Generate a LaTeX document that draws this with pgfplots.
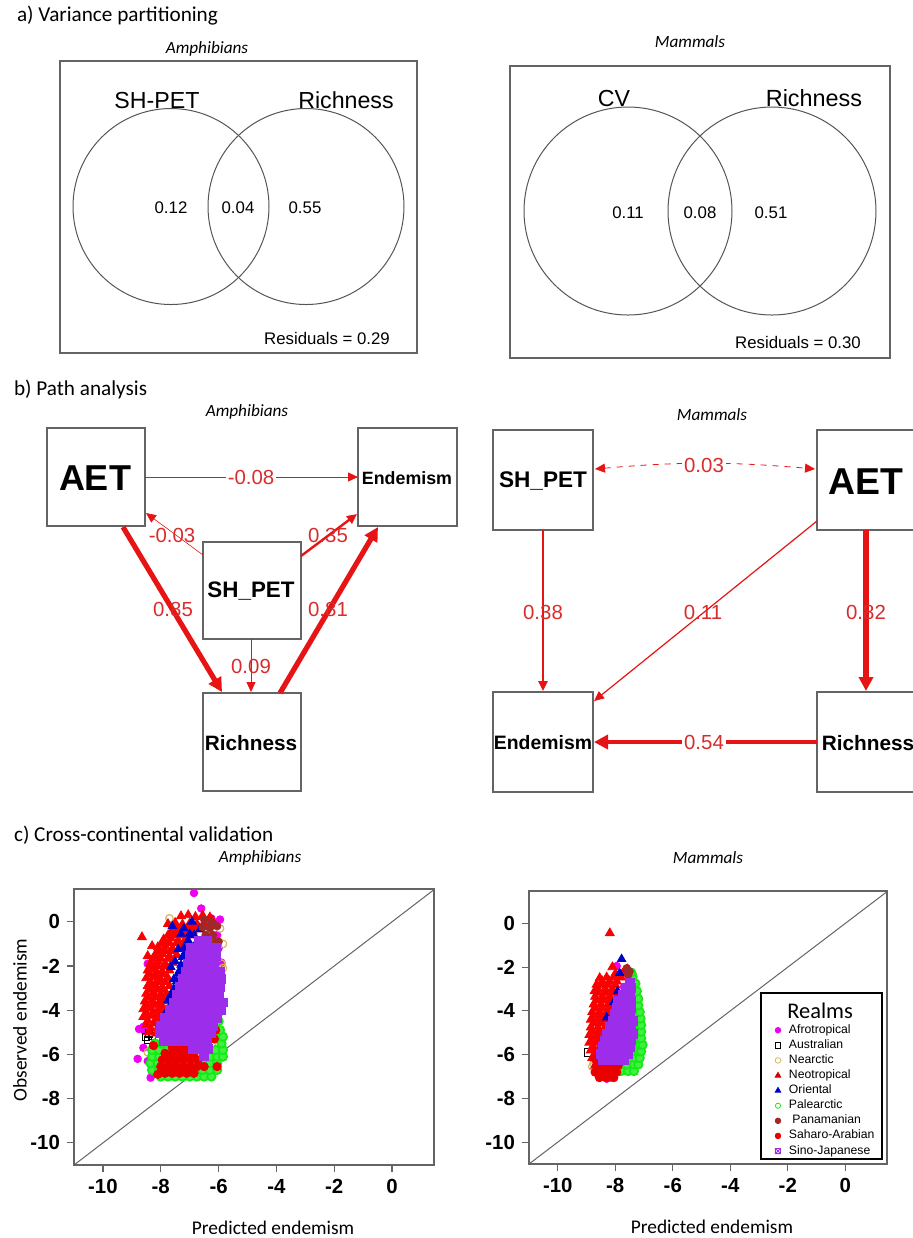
\documentclass[border=0pt]{standalone}
\usepackage{pgfplots}
\pgfplotsset{compat=1.18}
\usepackage{fontspec}
\setmainfont{Liberation Sans}
\newfontfamily\carl{Carlito}
\usetikzlibrary{arrows.meta}
\newcommand{\fs}[1]{\fontsize{#1}{#1}\selectfont}

\definecolor{framegray}{RGB}{100,100,100}
\definecolor{circgray}{RGB}{85,85,85}
\definecolor{edge}{RGB}{230,20,20}
\definecolor{elab}{RGB}{215,45,45}
\definecolor{afro}{RGB}{240,0,240}
\definecolor{nearc}{RGB}{215,180,90}
\definecolor{neo}{RGB}{250,0,0}
\definecolor{orie}{RGB}{0,0,205}
\definecolor{pale}{RGB}{20,235,20}
\definecolor{pana}{RGB}{160,40,40}
\definecolor{sahara}{RGB}{235,0,0}
\definecolor{sino}{RGB}{155,45,235}

\tikzset{
  hd/.style={anchor=west, font=\carl\fs{10.6}},
  sub/.style={font=\carl\itshape\fs{8.6}},
  frame/.style={draw=framegray, line width=0.6pt},
  venn/.style={draw=circgray, line width=0.5pt},
  vlab/.style={font=\fs{8.4}},
  ed/.style={draw=edge, -{Triangle[length=5pt,width=4.5pt]}},
  edk/.style={draw=edge, -{Triangle[length=7pt,width=7pt]}},
  el/.style={text=elab, font=\fs{10.2}, inner sep=1pt},
}

\pgfplotsset{
  scat/.style={scale only axis, xmin=-11, xmax=1.45, ymin=-11, ymax=1.48,
    xtick={-10,-8,-6,-4,-2,0}, ytick={-10,-8,-6,-4,-2,0},
    xticklabels={-10,-8,-6,-4,-2,0}, yticklabels={-10,-8,-6,-4,-2,0},
    tick align=outside, tick pos=left, major tick length=3.5pt,
    axis line style={draw=framegray, line width=0.6pt},
    major tick style={draw=framegray, line width=0.6pt},
    tick label style={font=\bfseries\fs{10.2}},
    label style={font=\carl\fs{9.7}},
    title style={font=\carl\itshape\fs{8.6}, anchor=center},
  },
  lgi/.style={legend image code/.code={\draw[##1, mark size=1.4pt, line width=0.4pt] plot coordinates {(0pt,0pt)};}},
  afroS/.style={only marks, mark=*, mark size=1.9pt, color=afro},
  austS/.style={only marks, mark=square, mark size=1.8pt, color=black, line width=0.5pt},
  nearS/.style={only marks, mark=o, mark size=1.9pt, color=nearc, line width=0.6pt},
  neoS/.style={only marks, mark=triangle*, mark size=2.6pt, color=neo},
  orieS/.style={only marks, mark=triangle*, mark size=2.4pt, color=orie},
  paleS/.style={only marks, mark=*, mark size=2.1pt, line width=0.9pt,
    mark options={draw=pale, fill=pale!80!white}},
  panaS/.style={only marks, mark=*, mark size=1.9pt, color=pana},
  sahaS/.style={only marks, mark=*, mark size=2.1pt, color=sahara},
  sinoS/.style={only marks, mark=square*, mark size=2.2pt, color=sino},
}

\begin{document}
\begin{tikzpicture}
% ---------- panels a) and b): diagrams on a pixel grid ----------
\begin{axis}[at={(0pt,0pt)}, anchor=north west, scale only axis,
  width=456pt, height=619pt, xmin=0, xmax=912, ymin=0, ymax=1238,
  y dir=reverse, hide axis, clip=false]
% a) Venn diagrams
\node[hd] at (axis cs:10,16) {a) Variance partitioning};
\node[sub] at (axis cs:207,49) {Amphibians};
\draw[frame] (axis cs:60,61) rectangle (axis cs:417,353);
\draw[venn] (axis cs:171,206.5) circle[radius=49pt];
\draw[venn] (axis cs:306,206.5) circle[radius=49pt];
\node[font=\fs{11.6}] at (axis cs:157,100) {SH-PET};
\node[font=\fs{11.6}] at (axis cs:346,100) {Richness};
\node[vlab] at (axis cs:171,208) {0.12};
\node[vlab] at (axis cs:238,208) {0.04};
\node[vlab] at (axis cs:305,208) {0.55};
\node[vlab] at (axis cs:327,338) {Residuals = 0.29};

\node[sub] at (axis cs:690,42) {Mammals};
\draw[frame] (axis cs:510,66) rectangle (axis cs:890,358);
\draw[venn] (axis cs:628,211) circle[radius=52pt];
\draw[venn] (axis cs:772,211) circle[radius=52pt];
\node[font=\fs{11.6}] at (axis cs:614,98) {CV};
\node[font=\fs{11.7}] at (axis cs:814,98) {Richness};
\node[vlab] at (axis cs:628,213) {0.11};
\node[vlab] at (axis cs:700,213) {0.08};
\node[vlab] at (axis cs:771,213) {0.51};
\node[vlab] at (axis cs:798,342) {Residuals = 0.30};

% b) path diagrams
\node[hd] at (axis cs:7,389) {b) Path analysis};
\node[sub] at (axis cs:247,412) {Amphibians};
\draw[frame] (axis cs:47,428) rectangle (axis cs:145,526);
\draw[frame] (axis cs:358,428) rectangle (axis cs:457,526);
\draw[frame] (axis cs:203,542) rectangle (axis cs:301,639);
\draw[frame] (axis cs:203,693) rectangle (axis cs:301,791);
\node[font=\bfseries\fs{18}] at (axis cs:95,478) {AET};
\node[font=\bfseries\fs{8.9}] at (axis cs:407,478) {Endemism};
\node[font=\bfseries\fs{11.2}, anchor=base] at (axis cs:251,597) {SH\_PET};
\node[font=\bfseries\fs{10.4}] at (axis cs:251,743) {Richness};
\draw[ed, line width=0.5pt] (axis cs:145,477) -- (axis cs:358,477);
\node[el, fill=white] at (axis cs:251,477) {-0.08};
\draw[ed, line width=0.3pt] (axis cs:203,555) -- (axis cs:146,513);
\node[el] at (axis cs:172,535) {-0.03};
\draw[ed, line width=1.2pt] (axis cs:301,556) -- (axis cs:357,514);
\node[el] at (axis cs:328,535) {0.35};
\draw[edk, line width=2.6pt] (axis cs:123,527) -- (axis cs:222,692);
\node[el] at (axis cs:173,609) {0.85};
\draw[edk, line width=2.6pt] (axis cs:280,693) -- (axis cs:378,527);
\node[el] at (axis cs:328,609) {0.81};
\draw[ed, line width=0.4pt] (axis cs:251,639) -- (axis cs:251,692);
\node[el] at (axis cs:251,666) {0.09};

\node[sub] at (axis cs:712,415) {Mammals};
\draw[frame] (axis cs:493,430) rectangle (axis cs:593,530);
\draw[frame] (axis cs:817,430) rectangle (axis cs:917,530);
\draw[frame] (axis cs:493,692) rectangle (axis cs:593,792);
\draw[frame] (axis cs:817,692) rectangle (axis cs:917,792);
\node[font=\bfseries\fs{11.3}, anchor=base] at (axis cs:543,487) {SH\_PET};
\node[font=\bfseries\fs{18.7}] at (axis cs:866,482) {AET};
\node[font=\bfseries\fs{9.7}] at (axis cs:543,743) {Endemism};
\node[font=\bfseries\fs{10.4}] at (axis cs:868,743) {Richness};
\draw[draw=edge, dashed, line width=0.4pt, {Triangle[length=5pt,width=4.5pt]}-{Triangle[length=5pt,width=4.5pt]}]
  (axis cs:595,469) to[bend left=5] (axis cs:815,469);
\node[el, fill=white] at (axis cs:704,465) {0.03};
\draw[ed, line width=1.2pt] (axis cs:543,530) -- (axis cs:543,691);
\node[el] at (axis cs:543,612) {0.38};
\draw[ed, line width=0.6pt] (axis cs:817,521) -- (axis cs:594,701);
\node[el] at (axis cs:703,612) {0.11};
\draw[edk, line width=3pt] (axis cs:866,530) -- (axis cs:866,691);
\node[el] at (axis cs:866,612) {0.82};
\draw[edk, line width=2.2pt] (axis cs:817,742) -- (axis cs:594,742);
\node[el, fill=white] at (axis cs:704,742) {0.54};

% c) heading
\node[hd] at (axis cs:7,835) {c) Cross-continental validation};
\end{axis}

% ---------- c) Amphibians ----------
\begin{axis}[scat, at={(37pt,-444.5pt)}, anchor=north west, width=180pt, height=138pt,
  title={Amphibians}, title style={at={(0.517,1.069)}},
  xlabel={Predicted endemism}, xlabel style={at={(0.553,-0.228)}, anchor=center},
  ylabel={Observed endemism}, ylabel style={at={(-0.15,0.525)}, anchor=center}]
\addplot[framegray, line width=0.5pt] coordinates {(-11,-11) (1.5,1.5)};
\addplot[afroS] coordinates {(-6.85,1.3) (-6.6,0.6) (-6.25,0.15) (-5.95,0.1) (-8.3,-2.0) (-8.45,-1.9)
  (-5.9,-1.85) (-6.05,-0.6) (-6.0,-1.2) (-8.75,-4.85) (-8.6,-4.75) (-8.55,-4.95) (-8.8,-6.2)
  (-8.35,-7.05) (-8.35,-6.45) (-8.2,-6.6) (-8.3,-6.75) (-8.45,-6.3) (-8.6,-5.7) (-6.2,-2.6) (-6.0,-3.3)};
\addplot[austS] coordinates {(-8.4,-5.05) (-8.5,-5.2) (-8.3,-5.15) (-8.45,-5.35) (-6.25,-6.7)};
\addplot[nearS] coordinates {(-7.7,0.15) (-5.85,-1.0) (-5.9,-1.9) (-5.85,-2.1) (-8.45,-5.9) (-5.95,-0.3) (-6.0,-5.6)};
\addplot[neoS] coordinates {
  (-7.3,0.25) (-7.05,0.3) (-6.8,0.22) (-6.55,0.28) (-6.3,0.2) (-6.2,0.05)
  (-7.75,-0.1) (-7.5,-0.05) (-7.25,-0.12) (-7.0,-0.08) (-6.75,-0.1) (-6.5,-0.05)
  (-7.5,-0.27) (-7.25,-0.27) (-7.0,-0.27) (-6.75,-0.27)
  (-7.65,-0.45) (-7.4,-0.4) (-7.15,-0.48) (-6.9,-0.42)
  (-7.75,-0.62) (-7.5,-0.62) (-7.25,-0.62) (-7.0,-0.62)
  (-7.9,-0.8) (-7.65,-0.75) (-7.4,-0.85) (-7.15,-0.8)
  (-7.95,-0.97) (-7.7,-0.97) (-7.45,-0.97) (-7.2,-0.97)
  (-8.1,-1.15) (-7.85,-1.1) (-7.6,-1.2) (-7.35,-1.15)
  (-8.1,-1.32) (-7.85,-1.32) (-7.6,-1.32)
  (-8.2,-1.5) (-7.95,-1.45) (-7.7,-1.55) (-7.45,-1.5)
  (-8.25,-1.67) (-8.0,-1.67) (-7.75,-1.67)
  (-8.35,-1.85) (-8.1,-1.8) (-7.85,-1.9) (-7.6,-1.85)
  (-8.35,-2.02) (-8.1,-2.02) (-7.85,-2.02)
  (-8.45,-2.2) (-8.2,-2.15) (-7.95,-2.25) (-7.7,-2.2)
  (-8.4,-2.37) (-8.15,-2.37) (-7.9,-2.37)
  (-8.5,-2.55) (-8.25,-2.5) (-8.0,-2.6) (-7.75,-2.55)
  (-8.35,-2.72) (-8.1,-2.72) (-7.85,-2.72)
  (-8.45,-2.9) (-8.2,-2.85) (-7.95,-2.95) (-7.7,-2.9)
  (-8.4,-3.07) (-8.15,-3.07) (-7.9,-3.07)
  (-8.5,-3.25) (-8.25,-3.2) (-8.0,-3.3) (-7.8,-3.25)
  (-8.45,-3.42) (-8.2,-3.42) (-7.95,-3.42)
  (-8.55,-3.6) (-8.3,-3.55) (-8.05,-3.65) (-7.85,-3.6)
  (-8.5,-3.77) (-8.25,-3.77) (-8.0,-3.77)
  (-8.6,-3.95) (-8.35,-3.9) (-8.1,-4.0) (-7.9,-3.95)
  (-8.5,-4.12) (-8.25,-4.12) (-8.0,-4.12)
  (-8.6,-4.3) (-8.35,-4.25) (-8.1,-4.35)
  (-8.45,-4.47) (-8.2,-4.47)
  (-8.5,-4.65) (-8.25,-4.6) (-8.05,-4.7)
  (-8.35,-4.82) (-8.1,-4.82)
  (-8.4,-5.0) (-8.15,-5.05)
  (-8.65,-0.7) (-8.3,-1.1) (-8.45,-1.55) (-7.2,-5.0)};
\addplot[orieS] coordinates {(-7.6,-0.2) (-6.92,0.0) (-6.65,-0.35) (-7.3,-0.55) (-7.05,-0.85) (-6.85,-0.6)
  (-7.4,-1.25) (-7.2,-1.5) (-7.5,-1.8) (-7.35,-2.2) (-7.55,-2.6) (-7.45,-3.0) (-7.65,-3.3)
  (-7.5,-3.7) (-7.75,-3.55) (-7.9,-4.6) (-7.8,-4.2) (-6.95,-1.15) (-6.8,-1.35) (-7.65,-2.05)
  (-7.2,-1.2) (-7.25,-1.6) (-7.3,-1.95) (-7.4,-2.35) (-7.45,-2.7) (-7.55,-3.05) (-7.6,-3.45)
  (-7.7,-3.85) (-7.8,-4.05) (-7.2,-0.3) (-7.0,-0.55) (-6.75,-0.9)};
\addplot[paleS] coordinates {
  (-8.0,-7.0) (-7.75,-7.0) (-7.5,-7.0) (-7.25,-7.0) (-7.0,-7.0) (-6.75,-7.0) (-6.5,-7.0) (-6.25,-7.0)
  (-8.3,-6.7) (-8.05,-6.7) (-7.8,-6.7) (-7.55,-6.7) (-7.3,-6.7) (-7.05,-6.7) (-6.8,-6.7) (-6.55,-6.7) (-6.3,-6.7) (-6.05,-6.7)
  (-8.35,-6.4) (-8.1,-6.4) (-6.55,-6.4) (-6.3,-6.4) (-6.05,-6.4)
  (-8.3,-6.1) (-8.05,-6.1) (-6.3,-6.1) (-6.05,-6.1) (-5.85,-6.1)
  (-8.3,-5.8) (-8.05,-5.8) (-7.8,-5.8) (-6.1,-5.8) (-5.85,-5.8)
  (-8.2,-5.5) (-7.95,-5.5) (-5.9,-5.5) (-6.1,-5.2) (-5.85,-5.2)
  (-5.95,-4.9) (-6.0,-4.5) (-6.0,-4.1) (-6.05,-3.6) (-6.1,-3.0)};
\addplot[panaS] coordinates {(-6.5,0.1) (-6.25,0.0) (-6.55,-0.25) (-6.3,-0.3) (-6.05,-0.2) (-6.45,-0.6)
  (-6.2,-0.6) (-6.6,-0.9) (-6.35,-0.95) (-6.1,-0.9) (-6.5,-1.3) (-6.25,-1.25) (-6.7,-1.6) (-6.0,-0.9)};
\addplot[sahaS] coordinates {
  (-7.85,-6.85) (-7.6,-6.85) (-7.35,-6.85) (-7.1,-6.85) (-6.85,-6.85)
  (-8.0,-6.55) (-7.75,-6.55) (-7.5,-6.55) (-7.25,-6.55) (-7.0,-6.55) (-6.75,-6.55) (-6.5,-6.55)
  (-7.95,-6.25) (-7.7,-6.25) (-7.45,-6.25) (-7.2,-6.25) (-6.95,-6.25) (-6.7,-6.25)
  (-7.85,-5.95) (-7.6,-5.95) (-7.35,-5.95) (-7.1,-5.95) (-6.85,-5.95)
  (-7.6,-5.7) (-7.35,-5.7) (-7.1,-5.7)
  (-6.05,-6.55) (-7.05,-5.0) (-8.25,-5.6) (-6.15,-5.3) (-6.1,-4.9) (-8.1,-6.9)};
\addplot[sinoS] coordinates {
  (-6.7,-0.85) (-6.4,-0.85)
  (-6.95,-1.2) (-6.65,-1.2) (-6.35,-1.2) (-6.1,-1.2)
  (-7.0,-1.55) (-6.7,-1.55) (-6.4,-1.55) (-6.1,-1.55)
  (-7.05,-1.9) (-6.75,-1.9) (-6.45,-1.9) (-6.15,-1.9)
  (-7.15,-2.25) (-6.85,-2.25) (-6.55,-2.25) (-6.25,-2.25) (-5.95,-2.25)
  (-7.25,-2.6) (-6.95,-2.6) (-6.65,-2.6) (-6.35,-2.6) (-6.05,-2.6) (-5.9,-2.6)
  (-7.35,-2.95) (-7.05,-2.95) (-6.75,-2.95) (-6.45,-2.95) (-6.15,-2.95) (-5.95,-2.95)
  (-7.45,-3.3) (-7.15,-3.3) (-6.85,-3.3) (-6.55,-3.3) (-6.25,-3.3) (-6.0,-3.3)
  (-7.55,-3.65) (-7.25,-3.65) (-6.95,-3.65) (-6.65,-3.65) (-6.35,-3.65) (-6.05,-3.65) (-5.85,-3.65)
  (-7.7,-4.0) (-7.4,-4.0) (-7.1,-4.0) (-6.8,-4.0) (-6.5,-4.0) (-6.2,-4.0) (-5.9,-4.0)
  (-7.85,-4.35) (-7.55,-4.35) (-7.25,-4.35) (-6.95,-4.35) (-6.65,-4.35) (-6.35,-4.35) (-6.05,-4.35)
  (-8.0,-4.7) (-7.7,-4.7) (-7.4,-4.7) (-7.1,-4.7) (-6.8,-4.7) (-6.5,-4.7) (-6.2,-4.7)
  (-8.05,-5.05) (-7.75,-5.05) (-7.45,-5.05) (-7.15,-5.05) (-6.85,-5.05) (-6.55,-5.05) (-6.25,-5.05)
  (-7.9,-5.4) (-7.6,-5.4) (-7.3,-5.4) (-7.0,-5.4) (-6.7,-5.4) (-6.4,-5.4)
  (-6.9,-5.75) (-6.6,-5.75) (-6.35,-5.75) (-6.5,-6.05)};
\end{axis}

% ---------- c) Mammals ----------
\begin{axis}[scat, at={(264.5pt,-445.5pt)}, anchor=north west, width=179pt, height=136.5pt,
  title={Mammals}, title style={at={(0.5,1.077)}},
  xlabel={Predicted endemism}, xlabel style={at={(0.511,-0.231)}, anchor=center},
  legend style={at={(0.686,0.5135)}, anchor=north west, draw=none, fill=none,
    inner sep=0pt, row sep=1.55pt, column sep=4pt, font=\fs{6.1},
    cells={anchor=west},
    nodes={inner sep=0pt, text height=4.5pt, text depth=1.5pt}},
  legend cell align=left]
\addplot[framegray, line width=0.5pt, forget plot] coordinates {(-11,-11) (1.5,1.5)};
\addplot[afroS, lgi] coordinates {(-7.95,-1.95) (-7.7,-2.9) (-8.3,-7.1) (-8.15,-7.05) (-7.8,-2.3)};
\addlegendentry{Afrotropical}
\addplot[austS, lgi] coordinates {(-8.95,-5.9)};
\addlegendentry{Australian}
\addplot[nearS, lgi] coordinates {(-8.8,-6.55) (-7.4,-2.3) (-8.75,-6.4)};
\addlegendentry{Nearctic}
\addplot[neoS, legend image code/.code={\draw[neo!85!black, mark=triangle*, mark size=1.6pt] plot coordinates {(0pt,0pt)};}] coordinates {
  (-8.19,-0.45) (-8.54,-2.5) (-8.65,-2.8) (-8.72,-3.1) (-8.1,-2.0) (-7.57,-2.1)
  (-8.0,-2.3) (-7.75,-2.3)
  (-8.3,-2.47) (-8.05,-2.47) (-7.8,-2.47)
  (-8.45,-2.65) (-8.2,-2.65) (-7.95,-2.65)
  (-8.5,-2.82) (-8.25,-2.82) (-8.0,-2.82)
  (-8.6,-3.0) (-8.35,-3.0) (-8.1,-3.0)
  (-8.6,-3.17) (-8.35,-3.17) (-8.1,-3.17)
  (-8.7,-3.35) (-8.45,-3.35) (-8.2,-3.35) (-7.95,-3.35)
  (-8.65,-3.52) (-8.4,-3.52) (-8.15,-3.52)
  (-8.75,-3.7) (-8.5,-3.7) (-8.25,-3.7) (-8.0,-3.7)
  (-8.7,-3.87) (-8.45,-3.87) (-8.2,-3.87)
  (-8.8,-4.05) (-8.55,-4.05) (-8.3,-4.05) (-8.05,-4.05)
  (-8.75,-4.22) (-8.5,-4.22) (-8.25,-4.22)
  (-8.85,-4.4) (-8.6,-4.4) (-8.35,-4.4)
  (-8.75,-4.57) (-8.5,-4.57) (-8.25,-4.57)
  (-8.85,-4.75) (-8.6,-4.75) (-8.35,-4.75)
  (-8.8,-4.92) (-8.55,-4.92) (-8.3,-4.92)
  (-8.9,-5.1) (-8.65,-5.1) (-8.4,-5.1)
  (-8.8,-5.27) (-8.55,-5.27) (-8.3,-5.27)
  (-8.9,-5.45) (-8.65,-5.45) (-8.4,-5.45)
  (-8.78,-5.62) (-8.5,-5.62) (-8.25,-5.62)
  (-8.85,-5.8) (-8.6,-5.8) (-8.35,-5.8)
  (-8.72,-5.97) (-8.48,-5.97) (-8.25,-5.97)
  (-8.8,-6.15) (-8.55,-6.15) (-8.3,-6.15)
  (-8.6,-6.32) (-8.35,-6.32)
  (-8.7,-6.5) (-8.45,-6.5)};
\addlegendentry{Neotropical}
\addplot[orieS, legend image code/.code={\draw[orie, mark=triangle*, mark size=1.6pt] plot coordinates {(0pt,0pt)};}] coordinates {(-7.78,-1.63) (-7.85,-2.27) (-7.92,-3.1) (-8.3,-4.3) (-7.6,-3.6) (-8.05,-3.6) (-7.8,-3.9)};
\addlegendentry{Oriental}
\addplot[paleS, legend image code/.code={\draw[pale!55!white, line width=0.4pt, mark=o, mark size=1.3pt] plot coordinates {(0pt,0pt)};}] coordinates {
  (-8.05,-6.75) (-7.8,-6.75) (-7.55,-6.75) (-7.35,-6.75)
  (-7.85,-6.45) (-7.6,-6.45) (-7.35,-6.45) (-7.2,-6.45)
  (-7.55,-6.15) (-7.3,-6.15) (-7.15,-6.15)
  (-7.4,-5.85) (-7.2,-5.85) (-7.1,-5.85)
  (-7.35,-5.55) (-7.15,-5.55) (-7.05,-5.55)
  (-7.3,-5.25) (-7.1,-5.25) (-7.3,-4.95) (-7.1,-4.95)
  (-7.3,-4.65) (-7.1,-4.65) (-7.3,-4.35) (-7.12,-4.35)
  (-7.3,-4.05) (-7.15,-4.05) (-7.35,-3.75) (-7.2,-3.75)
  (-7.4,-3.45) (-7.2,-3.45) (-7.4,-3.1) (-7.25,-3.1)
  (-7.3,-2.75) (-7.4,-2.45) (-7.45,-2.25)};
\addlegendentry{Palearctic}
\addplot[panaS, lgi] coordinates {(-7.6,-2.05) (-7.55,-2.35) (-7.5,-2.2)};
\addlegendentry{\ Panamanian}
\addplot[sahaS, lgi] coordinates {
  (-8.55,-7.05) (-8.3,-7.05) (-8.05,-7.05)
  (-8.7,-6.8) (-8.45,-6.8) (-8.2,-6.8) (-7.95,-6.8)
  (-8.65,-6.5) (-8.4,-6.5) (-8.15,-6.5) (-7.9,-6.5)
  (-8.7,-6.2) (-8.45,-6.2)};
\addlegendentry{Saharo-Arabian}
\addplot[sinoS, legend image code/.code={\draw[sino, line width=0.4pt] (-1.3pt,-1.3pt) rectangle (1.3pt,1.3pt) (-1.3pt,-1.3pt) -- (1.3pt,1.3pt) (-1.3pt,1.3pt) -- (1.3pt,-1.3pt);}] coordinates {
  (-8.45,-6.25) (-8.2,-6.25) (-7.95,-6.25) (-7.7,-6.25)
  (-8.5,-5.95) (-8.25,-5.95) (-8.0,-5.95) (-7.75,-5.95) (-7.55,-5.95)
  (-8.45,-5.65) (-8.2,-5.65) (-7.95,-5.65) (-7.7,-5.65) (-7.5,-5.65)
  (-8.35,-5.35) (-8.1,-5.35) (-7.85,-5.35) (-7.6,-5.35) (-7.45,-5.35)
  (-8.3,-5.05) (-8.05,-5.05) (-7.8,-5.05) (-7.55,-5.05) (-7.4,-5.05)
  (-8.2,-4.75) (-7.95,-4.75) (-7.7,-4.75) (-7.45,-4.75)
  (-8.1,-4.45) (-7.85,-4.45) (-7.6,-4.45) (-7.4,-4.45)
  (-8.0,-4.15) (-7.75,-4.15) (-7.5,-4.15)
  (-7.95,-3.85) (-7.7,-3.85) (-7.45,-3.85)
  (-7.9,-3.55) (-7.65,-3.55) (-7.45,-3.55)
  (-7.75,-3.25) (-7.5,-3.25) (-7.65,-2.95) (-7.45,-2.95) (-7.5,-2.7)};
\addlegendentry{Sino-Japanese}
\draw[black, line width=1.1pt] (rel axis cs:0.648,0.626) rectangle (rel axis cs:0.986,0.018);
\node[font=\carl\fs{11.2}] at (rel axis cs:0.813,0.562) {Realms};
\end{axis}
\pgfresetboundingbox
\path (0pt,0pt) rectangle (456pt,-619pt);
\end{tikzpicture}
\end{document}
